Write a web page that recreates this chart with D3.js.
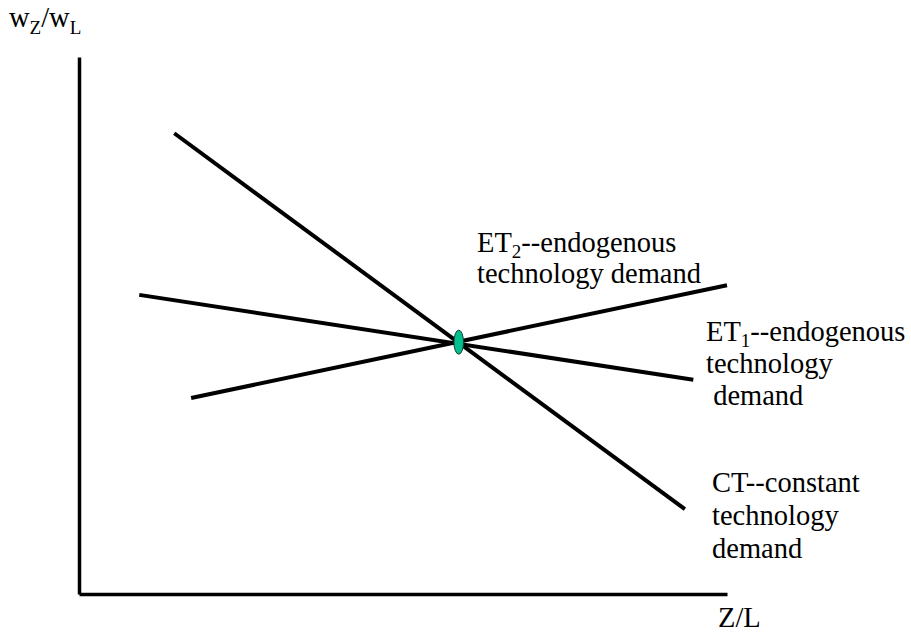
<!DOCTYPE html>
<html><head><meta charset="utf-8">
<script src="https://cdn.jsdelivr.net/npm/d3@7"></script>
<style>body{margin:0;background:#fff}svg{display:block}
svg text, svg tspan{font-family:"Liberation Serif","Tinos","Nimbus Roman","Times New Roman","Times","DejaVu Serif","Noto Serif",serif !important}</style>
</head><body>
<svg id="c" width="911" height="635"></svg>
<script>
// Data (abstract units: x = Z/L, y = wZ/wL, both 0..100)
const seriesNames = ["CT", "ET1", "ET2"];
const ctLine  = [[14.7, 85.8], [93.5, 15.8]];
const et1Line = [[9.3, 55.7], [94.8, 39.9]];
const et2Line = [[17.3, 36.5], [100, 57.5]];
const equilibrium = [58.6, 46.9];
const labelET2 = ["ET|2|--endogenous", "technology demand"];
const labelET1 = ["ET|1|--endogenous", "technology", " demand"];
const labelCT  = ["CT--constant", "technology", "demand"];

const svg = d3.select("#c");
const x = d3.scaleLinear().domain([0, 100]).range([79, 727]);
const y = d3.scaleLinear().domain([0, 100]).range([594, 57]);

// axes
const xAxis = d3.axisBottom(x).tickValues([]).tickSizeOuter(0);
const yAxis = d3.axisLeft(y).tickValues([]).tickSizeOuter(0);
svg.append("g").attr("transform", `translate(0,${y(0)})`).call(xAxis)
  .call(g => g.select(".domain").attr("stroke", "#000").attr("stroke-width", 3.5));
svg.append("g").attr("transform", `translate(${x(0)},0)`).call(yAxis)
  .call(g => g.select(".domain").attr("stroke", "#000").attr("stroke-width", 3.5));

const line = d3.line().x(d => x(d[0])).y(d => y(d[1]));
[ctLine, et1Line, et2Line].forEach(d => {
  svg.append("path").attr("d", line(d)).attr("fill", "none")
    .attr("stroke", "#000").attr("stroke-width", 4);
});

svg.append("ellipse").attr("cx", x(equilibrium[0])).attr("cy", y(equilibrium[1]))
  .attr("rx", 4.8).attr("ry", 12).attr("fill", "#00C08F").attr("stroke", "#1a3a30").attr("stroke-width", 1);

function label(lines, px, py, lh) {
  const t = svg.append("text").style("font-size", "28.5px")
    .attr("fill", "#000").attr("xml:space", "preserve");
  lines.forEach((s, i) => {
    const parts = s.split("|");
    if (parts.length === 3) {
      t.append("tspan").attr("x", px).attr("y", py + i * lh).text(parts[0]);
      t.append("tspan").style("font-size", "19px").attr("dy", 6).text(parts[1]);
      t.append("tspan").attr("dy", -6).text(parts[2]);
    } else {
      t.append("tspan").attr("x", px).attr("y", py + i * lh).text(s);
    }
  });
}
label(labelET2, 477, 252, 31);
label(labelET1, 706, 341, 32);
label(labelCT, 712, 492, 33);

// axis titles
const yt = svg.append("text").attr("x", 9).attr("y", 27).style("font-size", "28.5px");
yt.append("tspan").text("w");
yt.append("tspan").style("font-size", "19px").attr("dy", 7).text("Z");
yt.append("tspan").attr("dy", -7).text("/w");
yt.append("tspan").style("font-size", "19px").attr("dy", 7).text("L");
svg.append("text").attr("x", 718).attr("y", 627).style("font-size", "28.5px").text("Z/L");
</script>
</body></html>
